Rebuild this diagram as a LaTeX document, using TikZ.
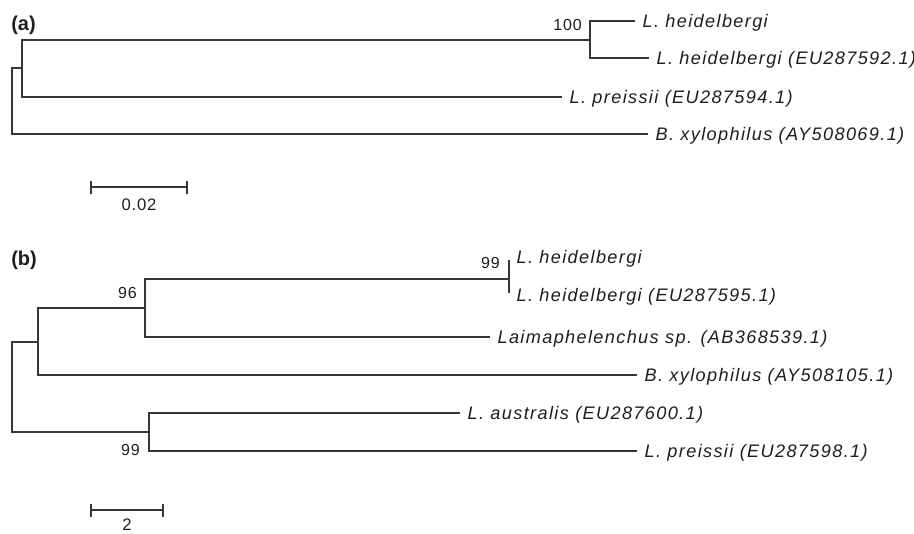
\documentclass[tikz,border=0pt]{standalone}
\usepackage{fontspec}
\setmainfont{Liberation Sans}
\newfontfamily\labfont[LetterSpace=7.5]{Liberation Sans}
\newfontfamily\numfont[LetterSpace=5]{Liberation Sans}
\definecolor{ln}{RGB}{55,55,55}
\definecolor{tx}{RGB}{30,30,30}
\begin{document}
\begin{tikzpicture}[x=0.75pt,y=-0.75pt,
  br/.style={draw=ln, line width=1pt},
  leaf/.style={anchor=west, inner xsep=5.5pt, inner ysep=0pt, font=\labfont\itshape\fontsize{13.6pt}{15pt}\selectfont, text=tx, text height=9.74pt, text depth=0pt},
  boot/.style={anchor=east, inner sep=0pt, font=\numfont\fontsize{12pt}{14pt}\selectfont, text=tx, text height=8.6pt, text depth=0pt},
  num/.style={inner sep=0pt, font=\numfont\fontsize{12.5pt}{14pt}\selectfont, text=tx, text height=8.95pt, text depth=0pt},
  panel/.style={anchor=west, inner sep=0pt, font=\bfseries\fontsize{15pt}{17pt}\selectfont, text=tx}]
\useasboundingbox (0,0) rectangle (914,533);
\fill[white] (0,0) rectangle (914,533);

% ---------- panel (a)
\node[panel] (pa) at (11,25) {(a)};
\coordinate (aR) at (12,101);
\coordinate (aA) at (22,68);
\coordinate (aB) at (590,40);
\node[leaf] (a1) at (635,21) {L. heidelbergi};
\node[leaf] (a2) at (649,58) {L. heidelbergi (EU287592.1)};
\node[leaf] (a3) at (562,97) {L. preissii (EU287594.1)};
\node[leaf] (a4) at (648,134) {B. xylophilus (AY508069.1)};
\draw[br] (a1.west) -| (aB) |- (a2.west);
\draw[br] (aA) |- (aB);
\draw[br] (aA) |- (a3.west);
\draw[br] (aR) |- (aA);
\draw[br] (aR) |- (a4.west);
\node[boot] (b100) at (582,25) {100};

\coordinate (sa1) at (91,187);
\coordinate (sa2) at (187,187);
\draw[br] (sa1) -- (sa2);
\draw[br] (sa1) ++(0,-6.5) -- ++(0,13);
\draw[br] (sa2) ++(0,-6.5) -- ++(0,13);
\node[num] (sal) at (139,205) {0.02};

% ---------- panel (b)
\node[panel] (pb) at (11,260) {(b)};
\coordinate (bR) at (12,387);
\coordinate (bC) at (38,342);
\coordinate (bD) at (145,308);
\coordinate (bE) at (509,279);
\coordinate (bEt) at (509,260);
\coordinate (bEb) at (509,293);
\coordinate (bF) at (149,432);
\node[leaf] (b1) at (509,257) {L. heidelbergi};
\node[leaf] (b2) at (509,295) {L. heidelbergi (EU287595.1)};
\node[leaf] (b3) at (490,337) {Laimaphelenchus sp. (AB368539.1)};
\node[leaf] (b4) at (637,375) {B. xylophilus (AY508105.1)};
\node[leaf] (b5) at (460,413) {L. australis (EU287600.1)};
\node[leaf] (b6) at (637,451) {L. preissii (EU287598.1)};
\draw[br] (bEt) -- (bEb);
\draw[br] (bD) |- (bE);
\draw[br] (bD) |- (b3.west);
\draw[br] (bC) |- (bD);
\draw[br] (bC) |- (b4.west);
\draw[br] (bR) |- (bC);
\draw[br] (bR) |- (bF);
\draw[br] (b5.west) -| (bF) |- (b6.west);
\node[boot] (b96) at (137,293) {96};
\node[boot] (b99a) at (500,263) {99};
\node[boot] (b99b) at (140,450) {99};

\coordinate (sb1) at (91,510);
\coordinate (sb2) at (163,510);
\draw[br] (sb1) -- (sb2);
\draw[br] (sb1) ++(0,-6.5) -- ++(0,13);
\draw[br] (sb2) ++(0,-6.5) -- ++(0,13);
\node[num] (sbl) at (127,525) {2};
\end{tikzpicture}
\end{document}
